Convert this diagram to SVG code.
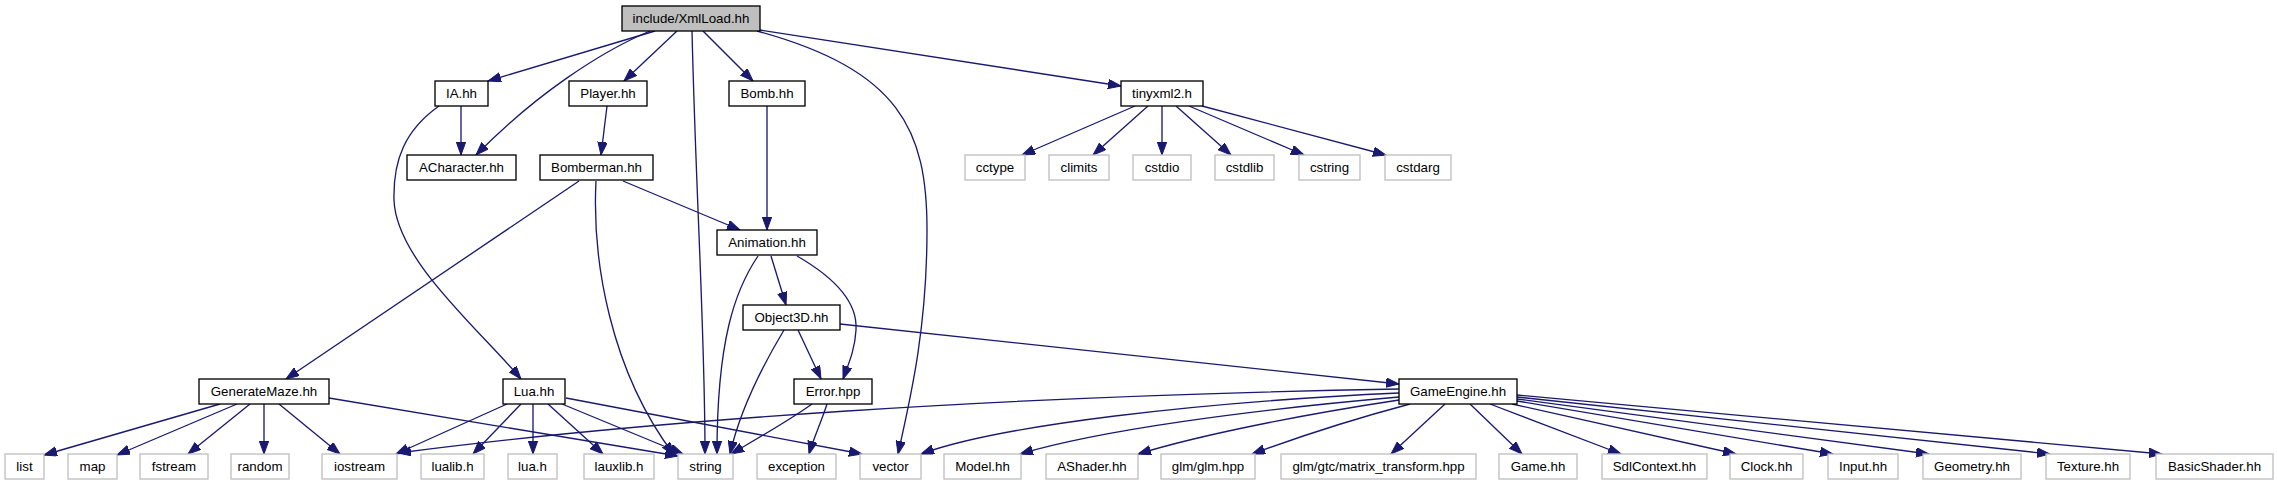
<svg xmlns="http://www.w3.org/2000/svg" width="2277" height="485" viewBox="0 0 2277 485">
<style>
.n rect{fill:#fff;stroke:#000;stroke-width:1.33}
.x rect{fill:#fff;stroke:#bfbfbf;stroke-width:1.33}
#n_xmlload rect{fill:#bfbfbf}
text{font-family:"Liberation Sans",Arial,Helvetica,sans-serif;font-size:13.3px;fill:#000;text-anchor:middle}
#edges path{fill:none;stroke:#191970;stroke-width:1.33;marker-end:url(#ah)}
</style>
<defs>
<marker id="ah" markerUnits="userSpaceOnUse" markerWidth="14" markerHeight="10" refX="13" refY="4.7" orient="auto" viewBox="0 0 14 10">
<path d="M0,0 L13,4.7 L0,9.4 z" fill="#191970" stroke="#191970" stroke-width="1"/>
</marker>
</defs>
<rect width="2277" height="485" fill="#fff"/>
<g id="edges">
<path d="M655,31 L488,81"/>
<path d="M650,31 C600,52 535,95 476,155"/>
<path d="M677,31 L624,81"/>
<path d="M692,31 C696,200 705,330 705,454"/>
<path d="M703,31 L753,81"/>
<path d="M757,31 C900,70 927,130 927,230 C927,330 910,400 898,454"/>
<path d="M760,30 L1121,86"/>
<path d="M461,106 L461,155"/>
<path d="M439,106 C405,130 393,160 394,200 C396,260 480,330 521,379"/>
<path d="M607,106 L601,155"/>
<path d="M767,106 L767,230"/>
<path d="M579,181 L286,379"/>
<path d="M596,181 C592,260 610,370 674,455"/>
<path d="M623,181 L740,230"/>
<path d="M758,256 C735,290 717,340 717,454"/>
<path d="M771,256 L786,305"/>
<path d="M797,256 C830,275 858,300 856,330 C855,350 848,365 843,379"/>
<path d="M798,330 L821,379"/>
<path d="M784,330 C760,370 740,410 730,454"/>
<path d="M840,324 L1399,384"/>
<path d="M812,404 C790,420 760,437 731,454"/>
<path d="M827,404 C822,420 813,440 809,454"/>
<path d="M220,404 L44,455"/>
<path d="M237,404 L117,455"/>
<path d="M250,404 L188,454"/>
<path d="M264,404 L264,454"/>
<path d="M279,404 L340,454"/>
<path d="M329,398 L678,456"/>
<path d="M507,404 L396,454"/>
<path d="M521,404 L473,454"/>
<path d="M533,404 L533,454"/>
<path d="M548,404 L603,454"/>
<path d="M562,404 L683,454"/>
<path d="M566,398 L862,454"/>
<path d="M1399,389 C1000,396 650,420 398,453"/>
<path d="M1399,393 C1200,402 1000,425 921,454"/>
<path d="M1399,397 C1250,410 1100,430 1020,454"/>
<path d="M1399,400 C1300,415 1200,435 1138,454"/>
<path d="M1410,404 C1350,420 1290,440 1252,454"/>
<path d="M1445,404 L1391,454"/>
<path d="M1470,404 L1522,454"/>
<path d="M1490,404 L1621,454"/>
<path d="M1512,404 L1736,454"/>
<path d="M1517,401 L1833,454"/>
<path d="M1517,399 L1929,454"/>
<path d="M1517,397 L2050,454"/>
<path d="M1517,395 L2162,454"/>
<path d="M1135,106 L1022,155"/>
<path d="M1148,106 L1093,155"/>
<path d="M1162,106 L1162,155"/>
<path d="M1176,106 L1231,155"/>
<path d="M1189,106 L1304,155"/>
<path d="M1202,106 L1386,155"/>
</g>
<g id="n_xmlload" class="n"><rect x="622" y="6" width="138" height="25"/><text x="691" y="23.3">include/XmlLoad.hh</text></g>
<g id="n_ia" class="n"><rect x="435" y="81" width="53" height="25"/><text x="461.5" y="98.3">IA.hh</text></g>
<g id="n_player" class="n"><rect x="569" y="81" width="78" height="25"/><text x="608" y="98.3">Player.hh</text></g>
<g id="n_bomb" class="n"><rect x="729" y="81" width="76" height="25"/><text x="767" y="98.3">Bomb.hh</text></g>
<g id="n_tinyxml2" class="n"><rect x="1121" y="81" width="82" height="25"/><text x="1162" y="98.3">tinyxml2.h</text></g>
<g id="n_acharacter" class="n"><rect x="407" y="155" width="109" height="25"/><text x="461.5" y="172.3">ACharacter.hh</text></g>
<g id="n_bomberman" class="n"><rect x="540" y="155" width="113" height="25"/><text x="596.5" y="172.3">Bomberman.hh</text></g>
<g id="n_cctype" class="x"><rect x="965" y="155" width="60" height="25"/><text x="995" y="172.3">cctype</text></g>
<g id="n_climits" class="x"><rect x="1049" y="155" width="60" height="25"/><text x="1079" y="172.3">climits</text></g>
<g id="n_cstdio" class="x"><rect x="1133" y="155" width="58" height="25"/><text x="1162" y="172.3">cstdio</text></g>
<g id="n_cstdlib" class="x"><rect x="1215" y="155" width="59" height="25"/><text x="1244.5" y="172.3">cstdlib</text></g>
<g id="n_cstring" class="x"><rect x="1299" y="155" width="61" height="25"/><text x="1329.5" y="172.3">cstring</text></g>
<g id="n_cstdarg" class="x"><rect x="1385" y="155" width="66" height="25"/><text x="1418" y="172.3">cstdarg</text></g>
<g id="n_animation" class="n"><rect x="717" y="230" width="100" height="25"/><text x="767" y="247.3">Animation.hh</text></g>
<g id="n_object3d" class="n"><rect x="743" y="305" width="97" height="25"/><text x="791.5" y="322.3">Object3D.hh</text></g>
<g id="n_generatemaze" class="n"><rect x="199" y="379" width="130" height="25"/><text x="264" y="396.3">GenerateMaze.hh</text></g>
<g id="n_lua" class="n"><rect x="503" y="379" width="62" height="25"/><text x="534" y="396.3">Lua.hh</text></g>
<g id="n_error" class="n"><rect x="794" y="379" width="78" height="25"/><text x="833" y="396.3">Error.hpp</text></g>
<g id="n_gameengine" class="n"><rect x="1399" y="379" width="118" height="25"/><text x="1458" y="396.3">GameEngine.hh</text></g>
<g id="n_list" class="x"><rect x="5" y="454" width="39" height="25"/><text x="24.5" y="471.3">list</text></g>
<g id="n_map" class="x"><rect x="68" y="454" width="49" height="25"/><text x="92.5" y="471.3">map</text></g>
<g id="n_fstream" class="x"><rect x="140" y="454" width="68" height="25"/><text x="174" y="471.3">fstream</text></g>
<g id="n_random" class="x"><rect x="231" y="454" width="58" height="25"/><text x="260" y="471.3">random</text></g>
<g id="n_iostream" class="x"><rect x="322" y="454" width="75" height="25"/><text x="359.5" y="471.3">iostream</text></g>
<g id="n_lualib" class="x"><rect x="421" y="454" width="63" height="25"/><text x="452.5" y="471.3">lualib.h</text></g>
<g id="n_luah" class="x"><rect x="508" y="454" width="49" height="25"/><text x="532.5" y="471.3">lua.h</text></g>
<g id="n_lauxlib" class="x"><rect x="584" y="454" width="70" height="25"/><text x="619" y="471.3">lauxlib.h</text></g>
<g id="n_string" class="x"><rect x="678" y="454" width="55" height="25"/><text x="705.5" y="471.3">string</text></g>
<g id="n_exception" class="x"><rect x="757" y="454" width="79" height="25"/><text x="796.5" y="471.3">exception</text></g>
<g id="n_vector" class="x"><rect x="860" y="454" width="61" height="25"/><text x="890.5" y="471.3">vector</text></g>
<g id="n_model" class="x"><rect x="944" y="454" width="77" height="25"/><text x="982.5" y="471.3">Model.hh</text></g>
<g id="n_ashader" class="x"><rect x="1046" y="454" width="92" height="25"/><text x="1092" y="471.3">AShader.hh</text></g>
<g id="n_glm" class="x"><rect x="1161" y="454" width="94" height="25"/><text x="1208" y="471.3">glm/glm.hpp</text></g>
<g id="n_matrix" class="x"><rect x="1281" y="454" width="195" height="25"/><text x="1378.5" y="471.3">glm/gtc/matrix_transform.hpp</text></g>
<g id="n_game" class="x"><rect x="1499" y="454" width="78" height="25"/><text x="1538" y="471.3">Game.hh</text></g>
<g id="n_sdlcontext" class="x"><rect x="1602" y="454" width="105" height="25"/><text x="1654.5" y="471.3">SdlContext.hh</text></g>
<g id="n_clock" class="x"><rect x="1730" y="454" width="73" height="25"/><text x="1766.5" y="471.3">Clock.hh</text></g>
<g id="n_input" class="x"><rect x="1828" y="454" width="70" height="25"/><text x="1863" y="471.3">Input.hh</text></g>
<g id="n_geometry" class="x"><rect x="1923" y="454" width="98" height="25"/><text x="1972" y="471.3">Geometry.hh</text></g>
<g id="n_texture" class="x"><rect x="2046" y="454" width="84" height="25"/><text x="2088" y="471.3">Texture.hh</text></g>
<g id="n_basicshader" class="x"><rect x="2156" y="454" width="117" height="25"/><text x="2214.5" y="471.3">BasicShader.hh</text></g>
</svg>
